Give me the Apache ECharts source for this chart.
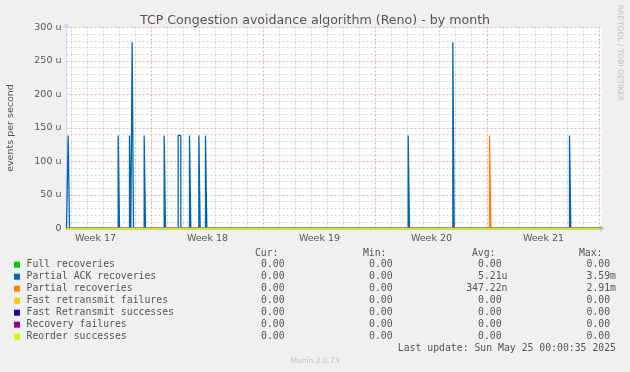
<!DOCTYPE html>
<html>
<head>
<meta charset="utf-8">
<script src="https://cdn.jsdelivr.net/npm/echarts@6/dist/echarts.min.js"></script>
<style>
html,body{margin:0;padding:0;background:#f0f0f0;}
#chart{width:630px;height:372px;}
</style>
</head>
<body>
<div id="chart"></div>
<script>
// ---- data (x in hours relative to start of Week 18) ----
const xMinHours = -127.5;
const xMaxHours = 675;
const weekLabels = ['Week 17', 'Week 18', 'Week 19', 'Week 20', 'Week 21'];
const weekCenters = [-84, 84, 252, 420, 588];
const gridDays = [-5,-4,-3,-2,-1,0,1,2,3,4,5,6,7,8,9,10,11,12,13,14,15,16,17,18,19,20,21,22,23,24,25,26,27,28];

const seriesNames = ['Full recoveries', 'Partial ACK recoveries', 'Partial recoveries',
  'Fast retransmit failures', 'Fast Retransmit successes', 'Recovery failures', 'Reorder successes'];
const seriesColors = ['#00cc00', '#0066b3', '#ff8000', '#ffcc00', '#330099', '#990099', '#ccff00'];

// spikes of Partial ACK recoveries: start hour, duration (h), value (u events/s)
const ackStart = [-125, -50, -33, -29, -11, 19, 40, 57, 71, 81, 385, 452, 627];
const ackDur   = [2, 2, 2, 2, 2, 2, 4, 2, 2, 2, 2, 2, 2];
const ackValue = [138.9, 138.9, 138.9, 277.8, 138.9, 138.9, 138.9, 138.9, 138.9, 138.9, 138.9, 277.8, 138.9];
// spikes of Partial recoveries
const partStart = [507];
const partDur   = [2];
const partValue = [138.9];

const curVals = ['0.00 ', '0.00 ', '0.00 ', '0.00 ', '0.00 ', '0.00 ', '0.00 '];
const minVals = ['0.00 ', '0.00 ', '0.00 ', '0.00 ', '0.00 ', '0.00 ', '0.00 '];
const avgVals = ['0.00 ', '5.21u', '347.22n', '0.00 ', '0.00 ', '0.00 ', '0.00 '];
const maxVals = ['0.00 ', '3.59m', '2.91m', '0.00 ', '0.00 ', '0.00 ', '0.00 '];
const lastUpdate = 'Last update: Sun May 25 00:00:35 2025';

// ---- build ----
function spikeLine(starts, durs, vals) {
  const pts = [[xMinHours, 0]];
  for (let i = 0; i < starts.length; i++) {
    const a = starts[i], b = starts[i] + durs[i];
    pts.push([a, 0], [a, vals[i]], [b, vals[i]], [b, 0]);
  }
  pts.push([xMaxHours, 0]);
  return pts;
}
const zeroLine = [[xMinHours, 0], [xMaxHours, 0]];
const seriesData = [
  zeroLine,
  spikeLine(ackStart, ackDur, ackValue),
  spikeLine(partStart, partDur, partValue),
  zeroLine, zeroLine, zeroLine, zeroLine
];

const chart = echarts.init(document.getElementById('chart'), null, {renderer: 'canvas'});

const minorGridColor = 'rgba(150,150,150,0.42)';
const majorGridColor = 'rgba(230,100,100,0.55)';
const dash = [2, 2];

const vGrid = gridDays.map(d => ({
  xAxis: d * 24,
  lineStyle: {color: d % 7 === 0 ? majorGridColor : minorGridColor, type: dash, width: 1}
}));

const series = [{
  name: 'grid', type: 'line', data: zeroLine, showSymbol: false, silent: true,
  lineStyle: {width: 0, opacity: 0}, z: 1,
  markLine: {silent: true, symbol: ['none', 'none'], label: {show: false}, animation: false, z: 1, data: vGrid}
}];
seriesNames.forEach((n, i) => {
  series.push({
    name: n, type: 'line', data: seriesData[i], showSymbol: false, symbol: 'none',
    lineStyle: {color: seriesColors[i], width: 1.3}, itemStyle: {color: seriesColors[i]},
    z: 3 + i, animation: false
  });
});

const font = '"DejaVu Sans", sans-serif';
const mono = '9.8px "DejaVu Sans Mono", monospace';
const textColor = '#555555';

const graphics = [];
const rowY0 = 264.7, rowH = 12;
const colCurEdge = 290.5, colMinEdge = 398.5, colAvgEdge = 507.5, colMaxEdge = 616;
[['Cur:', 278.5], ['Min:', 386.5], ['Avg:', 495.5], ['Max:', 602.5]].forEach(h => {
  graphics.push({type: 'text', x: h[1], y: 253, silent: true,
    style: {text: h[0], font: mono, fill: textColor, align: 'right', verticalAlign: 'middle'}});
});
seriesNames.forEach((n, i) => {
  const y = rowY0 + i * rowH;
  graphics.push({type: 'rect', shape: {x: 14, y: y - 3, width: 6, height: 6}, style: {fill: seriesColors[i]}, silent: true});
  graphics.push({type: 'text', x: 26.5, y: y, silent: true,
    style: {text: n, font: mono, fill: textColor, align: 'left', verticalAlign: 'middle'}});
  [[curVals, colCurEdge], [minVals, colMinEdge], [avgVals, colAvgEdge], [maxVals, colMaxEdge]].forEach(c => {
    graphics.push({type: 'text', x: c[1], y: y, silent: true,
      style: {text: c[0][i], font: mono, fill: textColor, align: 'right', verticalAlign: 'middle'}});
  });
});
graphics.push({type: 'text', x: 616, y: 348.7, silent: true,
  style: {text: lastUpdate, font: mono, fill: textColor, align: 'right', verticalAlign: 'middle'}});
graphics.push({type: 'text', x: 315, y: 361, silent: true,
  style: {text: 'Munin 2.0.73', font: '7.5px ' + font, fill: '#c0c0c0', align: 'center', verticalAlign: 'middle'}});
graphics.push({type: 'text', x: 620, y: 53, rotation: -Math.PI / 2, silent: true,
  style: {text: 'RRDTOOL / TOBI OETIKER', font: '7.5px ' + font, fill: '#c0c0c0', align: 'center', verticalAlign: 'middle'}});

chart.setOption({
  backgroundColor: '#f0f0f0',
  animation: false,
  title: {
    text: 'TCP Congestion avoidance algorithm (Reno) - by month',
    left: 'center', top: 9,
    textStyle: {fontFamily: font, fontSize: 12.6, fontWeight: 'normal', color: textColor}
  },
  grid: {left: 66.5, right: 28.5, top: 27.5, bottom: 143.5, show: true, backgroundColor: '#ffffff', borderWidth: 0,
    containLabel: false, outerBoundsMode: 'none'},
  xAxis: {
    type: 'value', min: xMinHours, max: xMaxHours,
    axisLine: {show: true, onZero: false, lineStyle: {color: '#CFD6F8', width: 1},
      symbol: ['none', 'arrow'], symbolSize: [6, 6], symbolOffset: [0, 4]},
    axisTick: {show: false},
    splitLine: {show: false},
    axisLabel: {
      customValues: weekCenters,
      formatter: v => { const k = weekCenters.indexOf(v); return k >= 0 ? weekLabels[k] : ''; },
      fontFamily: font, fontSize: 9.5, color: textColor, margin: 5
    }
  },
  yAxis: {
    type: 'value', min: 0, max: 300, interval: 50,
    name: 'events per second', nameLocation: 'middle', nameGap: 51,
    nameTextStyle: {fontFamily: font, fontSize: 9.5, color: textColor},
    axisLine: {show: true, onZero: false, lineStyle: {color: '#CFD6F8', width: 1},
      symbol: ['none', 'arrow'], symbolSize: [6, 6], symbolOffset: [0, 5]},
    axisTick: {show: false},
    axisLabel: {formatter: v => v === 0 ? '0' : v + ' u', fontFamily: font, fontSize: 9.5, color: textColor, margin: 5},
    splitLine: {show: true, lineStyle: {color: majorGridColor, type: dash, width: 1}},
    minorTick: {show: false, splitNumber: 5},
    minorSplitLine: {show: true, lineStyle: {color: minorGridColor, type: dash, width: 1}}
  },
  graphic: graphics,
  series: series
});
</script>
</body>
</html>
